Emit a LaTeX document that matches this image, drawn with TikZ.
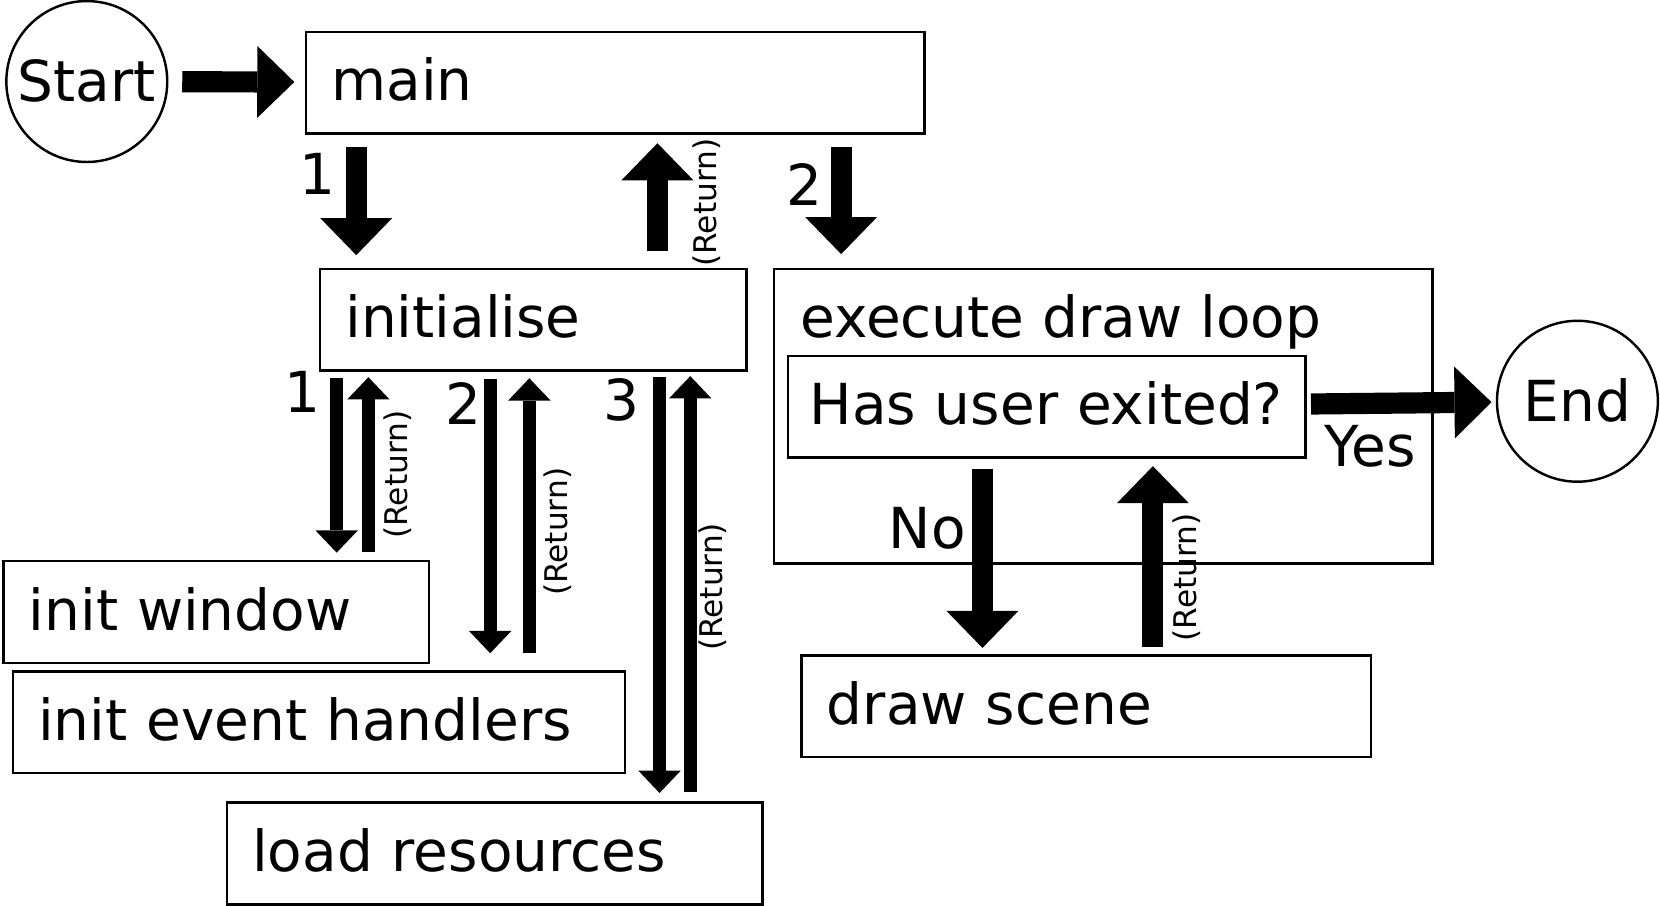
\documentclass[tikz,border=0pt]{standalone}
\usepackage{fontspec}
\setmainfont{DejaVu Sans}
\usetikzlibrary{calc,arrows.meta}

\begin{document}
\begin{tikzpicture}[x=1pt,y=-1pt,font=\fontsize{53.4}{64}\selectfont,
	box/.style={draw,line width=2.3pt,anchor=north west,align=left,inner xsep=24pt,minimum height=96pt,text height=43.5pt,text depth=9.5pt},
	term/.style={draw,circle,line width=2.3pt,minimum size=152pt,inner sep=0pt,text height=45.5pt,text depth=7.5pt},
	num/.style={inner sep=0pt},
	ret/.style={rotate=90,anchor=north,inner sep=0pt,font=\fontsize{29.5}{35}\selectfont},
	bigarrow/.style={line width=20pt,-{Triangle[width=68pt,length=35pt,line width=0pt]}},
	smallarrow/.style={line width=12pt,-{Triangle[width=40pt,length=21pt,line width=0pt]}}]
	\useasboundingbox (0,0) rectangle (1568,855);

	\node[term] (start) at (82,77) {Start};
	\node[box,text width=536pt] (main) at (288,29) {main};
	\node[box,text width=355pt] (init) at (301,253) {initialise};
	\node[box,minimum width=622pt,minimum height=278pt,
		label={[name=looptext,anchor=base west,inner sep=0pt,xshift=26pt,yshift=-65.5pt]north west:execute draw loop}] (loop) at (730,253) {};
	\node[box,inner xsep=20.5pt,text width=448pt] (exited) at (743,335) {Has user exited?};
	\node[term] (end) at (1490,379) {End};
	\node[box,text width=354pt] (win) at (2,529) {init window};
	\node[box,text width=530pt] (events) at (11,633) {init event handlers};
	\node[box,text width=458pt] (load) at (213,757) {load resources};
	\node[box,text width=490pt] (scene) at (756,618) {draw scene};

	\draw[bigarrow,shorten <=13pt,shorten >=10pt] (start) -- (main);
	\draw[bigarrow] ($(main.south west)+(48.5,12)$) -- ($(init.north west)+(35.5,-12)$);
	\node[num] (n1) at ($(main.south west)+(12,37)$) {1};
	\draw[bigarrow] ($(init.north west)+(320,-16)$) -- ($(main.south west)+(333,8)$);
	\node[ret] (r0) at ($(main.south west)+(366,64)$) {(Return)};
	\draw[bigarrow] ($(main.south west)+(506.5,12)$) -- ($(loop.north west)+(64.5,-13)$);
	\node[num] (n2) at ($(main.south west)+(472,47)$) {2};

	\draw[smallarrow] ($(init.south west)+(17,6)$) -- ($(win.north west)+(316,-7)$);
	\node[num] (i1) at ($(init.south west)+(-15,19)$) {1};
	\draw[smallarrow] ($(win.north west)+(346,-8)$) -- ($(init.south west)+(47,5)$);
	\node[ret] (r1) at ($(init.south west)+(61,97)$) {(Return)};
	\draw[smallarrow] ($(init.south west)+(162,7)$) -- ($(events.north west)+(452,-16)$);
	\node[num] (i2) at ($(init.south west)+(137,30)$) {2};
	\draw[smallarrow] ($(events.north west)+(489,-16.5)$) -- ($(init.south west)+(199,6)$);
	\node[ret] (r2) at ($(init.south west)+(212,151)$) {(Return)};
	\draw[smallarrow] ($(init.south west)+(322,5)$) -- ($(load.north west)+(410,-8)$);
	\node[num] (i3) at ($(init.south west)+(286,26)$) {3};
	\draw[smallarrow] ($(load.north west)+(439,-9)$) -- ($(init.south west)+(351,4)$);
	\node[ret] (r3) at ($(init.south west)+(359,203)$) {(Return)};

	\draw[bigarrow,shorten <=4pt,shorten >=4pt] (exited) -- (end);
	\node[num] (yes) at ($(exited.south east)+(60,-12)$) {Yes};
	\draw[bigarrow] ($(exited.south west)+(185,10)$) -- ($(scene.north west)+(172,-6)$);
	\node[num] (no) at ($(exited.south west)+(133,66)$) {No};
	\draw[bigarrow] ($(scene.north west)+(333,-7)$) -- ($(exited.south west)+(346,7)$);
	\node[ret] (r4) at ($(exited.south west)+(365,112)$) {(Return)};
\end{tikzpicture}
\end{document}
